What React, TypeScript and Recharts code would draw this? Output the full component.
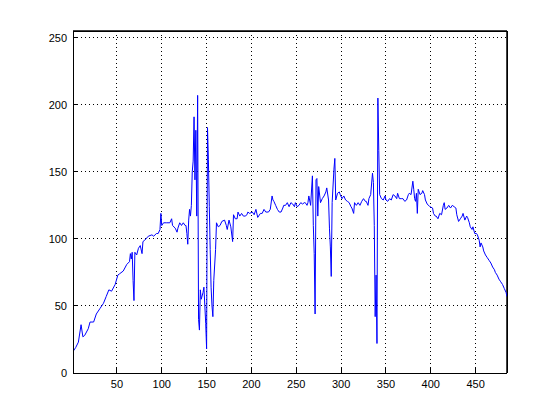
import { LineChart, Line, XAxis, YAxis, CartesianGrid, ReferenceLine } from "recharts";

// sample index (x) and value (y)
const xs = [
  1, 4, 7, 10, 12, 14, 18, 20, 24, 27, 31, 35, 38, 41, 44, 48, 51, 53, 57, 61,
  64, 65, 66, 67, 68, 69, 70, 72, 74, 76, 78, 79, 81, 85, 89, 91, 94, 96, 98, 99,
  100, 102, 105, 109, 111, 112, 115, 117, 118, 120, 122, 124, 126, 127, 128, 129, 130, 131, 132, 133,
  134, 135, 136, 137, 138, 139, 140, 141, 142, 143, 144, 146, 147, 149, 150, 151, 152, 153, 154, 155,
  156, 157, 158, 160, 161, 163, 165, 167, 170, 172, 173, 175, 177, 179, 180, 182, 184, 185, 187, 189,
  191, 193, 195, 196, 198, 201, 203, 205, 207, 210, 212, 214, 216, 219, 221, 223, 224, 225, 227, 229,
  231, 233, 235, 236, 238, 240, 242, 244, 246, 248, 249, 251, 253, 255, 257, 259, 260, 262, 263, 264,
  266, 268, 269, 270, 271, 272, 273, 274, 275, 277, 279, 281, 283, 284, 286, 287, 288, 289, 290, 292,
  293, 294, 296, 298, 299, 301, 303, 305, 307, 309, 311, 312, 314, 315, 317, 319, 321, 323, 325, 327,
  328, 330, 331, 333, 335, 336, 337, 338, 339, 340, 341, 342, 343, 345, 347, 349, 350, 352, 354, 356,
  358, 360, 362, 363, 365, 367, 369, 371, 373, 375, 376, 378, 380, 381, 382, 383, 384, 385, 386, 388,
  390, 391, 393, 394, 396, 399, 402, 403, 405, 406, 408, 410, 412, 414, 415, 416, 418, 420, 422, 424,
  426, 428, 429, 431, 433, 435, 436, 438, 440, 441, 443, 444, 446, 447, 449, 451, 452, 454, 455, 456,
  458, 459, 461, 463, 465, 467, 469, 471, 472, 474, 476, 478, 480, 482, 484, 485,
];

const ys = [
  16, 19, 23, 36, 27, 28, 33, 38, 38, 44, 48, 52, 57, 62, 61, 66, 73, 74, 76, 81,
  83, 89, 85, 90, 69, 54, 90, 88, 93, 95, 89, 98, 99, 102, 103, 102, 104, 104, 107, 119,
  110, 112, 112, 112, 115, 110, 108, 105, 108, 112, 110, 112, 110, 110, 104, 96, 114, 122, 117, 125,
  150, 158, 191, 144, 181, 117, 207, 40, 32, 62, 55, 60, 64, 37, 18, 183, 159, 124, 92, 64,
  50, 42, 69, 92, 112, 109, 110, 113, 114, 110, 107, 114, 109, 98, 118, 115, 115, 120, 117, 119,
  117, 117, 118, 120, 119, 120, 118, 122, 116, 119, 119, 122, 120, 120, 122, 132, 129, 128, 125, 122,
  120, 120, 123, 125, 125, 127, 124, 127, 126, 124, 127, 124, 125, 127, 126, 127, 127, 125, 127, 132,
  125, 147, 110, 89, 44, 144, 145, 117, 139, 127, 130, 132, 135, 138, 129, 108, 94, 72, 127, 152,
  160, 129, 134, 135, 133, 130, 132, 129, 128, 127, 124, 123, 119, 127, 125, 127, 125, 128, 130, 128,
  128, 125, 130, 133, 149, 142, 110, 42, 73, 22, 205, 166, 133, 130, 129, 132, 129, 128, 130, 129,
  133, 132, 130, 134, 130, 130, 130, 128, 129, 133, 134, 133, 143, 137, 130, 128, 134, 119, 137, 133,
  134, 136, 133, 129, 126, 124, 123, 119, 117, 117, 115, 119, 118, 125, 127, 122, 123, 125, 123, 125,
  124, 123, 118, 113, 115, 117, 119, 114, 117, 116, 112, 109, 107, 109, 104, 104, 103, 99, 94, 97,
  94, 91, 88, 86, 84, 82, 79, 77, 75, 73, 70, 68, 66, 63, 60, 57,
];

const xTicks = [50, 100, 150, 200, 250, 300, 350, 400, 450];
const yTicks = [0, 50, 100, 150, 200, 250];
const xMin = 1;
const xMax = 485;
const yMax = 255;

const data = xs.map((x, i) => ({ x, y: ys[i] }));

const tickFont = { fontSize: 11, fill: "#000", fontFamily: "Liberation Sans, Arial, sans-serif" };
const crisp = { stroke: "#000", shapeRendering: "crispEdges" };

export default function App() {
  return (
    <LineChart width={552} height={412} data={data} margin={{ top: 22, right: 52, bottom: 17, left: 0 }}>
      <CartesianGrid stroke="#000" strokeDasharray="1 3" shapeRendering="crispEdges" syncWithTicks />
      <XAxis
        dataKey="x"
        type="number"
        domain={[xMin, xMax]}
        ticks={xTicks}
        allowDataOverflow
        height={30}
        stroke="#000"
        axisLine={crisp}
        tickLine={crisp}
        tickSize={-5}
        tickMargin={12}
        tick={tickFont}
      />
      <XAxis
        xAxisId="top"
        orientation="top"
        dataKey="x"
        type="number"
        domain={[xMin, xMax]}
        ticks={xTicks}
        height={1}
        stroke="#000"
        axisLine={crisp}
        tickLine={crisp}
        tickSize={-5}
        tick={false}
      />
      <YAxis
        type="number"
        domain={[0, yMax]}
        ticks={yTicks}
        allowDataOverflow
        width={65}
        stroke="#000"
        axisLine={crisp}
        tickLine={crisp}
        tickSize={-5}
        tickMargin={11}
        tick={tickFont}
      />
      <YAxis
        yAxisId="right"
        orientation="right"
        type="number"
        domain={[0, yMax]}
        ticks={yTicks}
        width={1}
        stroke="#000"
        axisLine={crisp}
        tickLine={crisp}
        tickSize={-5}
        tick={false}
      />
      <ReferenceLine y={yMax} stroke="#000" strokeWidth={1.5} />
      <ReferenceLine x={xMax} stroke="#000" strokeWidth={1.5} />
      <Line type="linear" dataKey="y" stroke="#0000ff" strokeWidth={1} dot={false} isAnimationActive={false} />
    </LineChart>
  );
}
